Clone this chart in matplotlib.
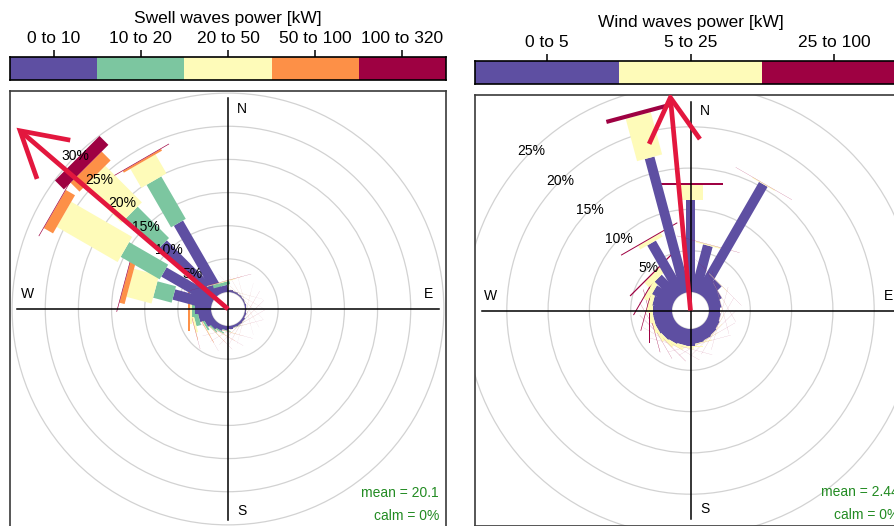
import numpy as np
import matplotlib
matplotlib.use("Agg")
import matplotlib.pyplot as plt
from matplotlib.patches import Polygon, Circle
from matplotlib.transforms import blended_transform_factory

plt.rcParams["font.family"] = ["Liberation Sans", "DejaVu Sans"]

# ------------------------------------------------------------------ data
# 15-degree direction sectors (degrees clockwise from north)
sectors = np.arange(0, 360, 15)

swell_classes = ["0 to 10", "10 to 20", "20 to 50", "50 to 100", "100 to 320"]
swell_colors = ["#5e4fa2", "#7cc6a0", "#fefbb9", "#fd9047", "#9e0142"]
# frequency of occurrence (%) per sector for each swell power class
swell_p0_10 = [0.3, 0.2, 0.15, 0.1, 0.1, 0.1, 0.1, 0.1, 0.2, 0.3, 0.3, 0.3,
               0.4, 0.6, 0.8, 1.0, 1.4, 2.0, 2.4, 5.9, 8.6, 11.3, 12.4, 1.0]
swell_p10_20 = [0.02, 0.01, 0.01, 0.01, 0.01, 0.01, 0.01, 0.01, 0.01, 0.02, 0.02, 0.05,
                0.05, 0.1, 0.2, 0.2, 0.3, 0.7, 0.4, 2.9, 6.8, 6.7, 7.4, 0.5]
swell_p20_50 = [0.02, 0.01, 0.01, 0.005, 0.005, 0.005, 0.005, 0.005, 0.01, 0.01, 0.01, 0.02,
                0.02, 0.05, 0.05, 0.05, 0.1, 0.3, 0.4, 3.9, 10.6, 7.8, 3.3, 0.1]
swell_p50_100 = [0.01, 0.005, 0.005, 0.005, 0.005, 0.005, 0.005, 0.005, 0.005, 0.005, 0.005, 0.005,
                 0.005, 0.01, 0.02, 0.02, 0.05, 0.05, 0.2, 0.8, 1.6, 1.9, 0.3, 0.02]
swell_p100_320 = [0.01, 0.005, 0.005, 0.005, 0.005, 0.005, 0.005, 0.005, 0.01, 0.01, 0.01, 0.01,
                  0.01, 0.01, 0.01, 0.01, 0.01, 0.02, 0.1, 0.1, 0.1, 1.9, 0.1, 0.02]
swell_mean = 20.1
swell_calm = 0
swell_arrow_dir = 310.6     # degrees
swell_arrow_len = 41.3      # % scale units
swell_rings = [0, 5, 10, 15, 20, 25, 30]

wind_classes = ["0 to 5", "5 to 25", "25 to 100"]
wind_colors = ["#5e4fa2", "#fefbb9", "#9e0142"]
wind_p0_5 = [11.1, 5.9, 15.4, 2.5, 1.8, 1.5, 1.3, 1.4, 1.5, 1.6, 1.7, 1.8,
             2.0, 2.0, 2.1, 2.2, 2.3, 2.3, 2.3, 2.4, 2.8, 3.3, 7.2, 16.9]
wind_p5_25 = [1.9, 0.15, 0.1, 0.05, 0.02, 0.02, 0.02, 0.02, 0.03, 0.05, 0.05, 0.1,
              0.15, 0.25, 0.3, 0.3, 0.3, 0.3, 0.4, 0.5, 0.6, 0.8, 0.5, 5.3]
wind_p25_100 = [0.25, 0.02, 0.02, 0.01, 0.01, 0.01, 0.01, 0.01, 0.01, 0.01, 0.01, 0.01,
                0.01, 0.01, 0.01, 0.02, 0.02, 0.04, 0.1, 0.08, 0.12, 0.15, 0.12, 0.5]
wind_mean = 2.44
wind_calm = 0
wind_arrow_dir = 354.6
wind_arrow_len = 25.9
wind_rings = [0, 5, 10, 15, 20, 25]

# ------------------------------------------------------------------ layout
W, H = 894, 526
fig = plt.figure(figsize=(W / 100, H / 100), dpi=100)
fig.patch.set_facecolor("white")


def px_axes(x, y, w, h):
    """Axes placed by its top-left corner in pixels."""
    return fig.add_axes([x / W, 1 - (y + h) / H, w / W, h / H])


ARROW_RED = "#e3173e"
GREEN_TXT = "#228b22"


def paddle(ax, deg, r1, r2, hw, color, z):
    th = np.deg2rad(deg)
    u = np.array([np.sin(th), np.cos(th)])
    v = np.array([np.cos(th), -np.sin(th)])
    pts = [r1 * u - hw * v, r1 * u + hw * v, r2 * u + hw * v, r2 * u - hw * v]
    ax.add_patch(Polygon(pts, closed=True, facecolor=color, edgecolor="none",
                         zorder=z))


def draw_rose(ax, classes, colors, series, rings, offset, span, half_widths,
              arrow_dir, arrow_len, mean, calm, lbl_pos, line_len):
    ax.set_xlim(-span, span)
    ax.set_ylim(-span, span)
    ax.set_aspect("equal")
    ax.set_xticks([])
    ax.set_yticks([])
    for s in ax.spines.values():
        s.set_color("#3a3a3a")
        s.set_linewidth(1.2)

    # grid rings
    for r in rings:
        ax.add_patch(Circle((0, 0), offset + r, fill=False, edgecolor="#d2d2d2",
                            linewidth=0.9, zorder=1))

    data = np.array(series)
    cum = np.cumsum(data, axis=0)
    for i, d in enumerate(sectors):
        for j in range(len(classes)):
            lo = 0 if j == 0 else cum[j - 1, i]
            hi = cum[j, i]
            paddle(ax, d, offset + lo, offset + hi, half_widths[j], colors[j], 2)

    # cross hairs
    ax.plot([-line_len, line_len], [0, 0], color="black", lw=1.1, zorder=3)
    ax.plot([0, 0], [-line_len, line_len], color="black", lw=1.1, zorder=3)

    # ring labels along 315 degrees
    for r in rings[1:]:
        rr = offset + r
        ax.text(-rr * np.sin(np.pi / 4), rr * np.cos(np.pi / 4), f"{r}%",
                ha="center", va="center", fontsize=10, zorder=4)

    for txt, (x, y) in zip("NWES", lbl_pos):
        ax.text(x, y, txt, ha="center", va="center", fontsize=10, zorder=4)

    # mean direction arrow
    th = np.deg2rad(arrow_dir)
    tip = np.array([arrow_len * np.sin(th), arrow_len * np.cos(th)])
    ax.plot([0, tip[0]], [0, tip[1]], color=ARROW_RED, lw=3.4,
            solid_capstyle="butt", zorder=5)
    head = 51 / (ax.bbox.width / (2 * span))
    back = th + np.pi
    e1 = tip + head * np.array([np.sin(back + np.deg2rad(30)), np.cos(back + np.deg2rad(30))])
    e2 = tip + head * np.array([np.sin(back - np.deg2rad(30)), np.cos(back - np.deg2rad(30))])
    ax.plot([e1[0], tip[0], e2[0]], [e1[1], tip[1], e2[1]], color=ARROW_RED,
            lw=3.4, solid_joinstyle="miter", solid_capstyle="butt", zorder=5)

    ax.text(0.984, 0.078, f"mean = {mean}", transform=ax.transAxes, ha="right",
            va="center", fontsize=10, color=GREEN_TXT, zorder=6)
    ax.text(0.984, 0.025, f"calm = {calm}%", transform=ax.transAxes, ha="right",
            va="center", fontsize=10, color=GREEN_TXT, zorder=6)


def draw_key(ax, classes, colors, title, cx_px, title_base, label_base):
    n = len(classes)
    ax.bar(np.arange(n), np.ones(n), width=1.0, align="edge", color=colors,
           edgecolor="none")
    ax.set_xlim(0, n)
    ax.set_ylim(0, 1)
    ax.set_yticks([])
    ax.set_xticks(np.arange(n) + 0.5)
    ax.tick_params(axis="x", top=True, bottom=False, labeltop=False,
                   labelbottom=False, direction="out", length=5, width=1.1)
    for s in ax.spines.values():
        s.set_linewidth(1.2)
        s.set_color("black")
    tr = blended_transform_factory(ax.transData, fig.transFigure)
    for k, lab in enumerate(classes):
        ax.text(k + 0.5, 1 - label_base / H, lab, transform=tr, ha="center",
                va="baseline", fontsize=12.5)
    fig.text(cx_px / W, 1 - title_base / H, title, ha="center", va="baseline",
             fontsize=12.5)


# swell panel
ax_k1 = px_axes(10, 57, 436, 23)
draw_key(ax_k1, swell_classes, swell_colors, "Swell waves power [kW]", 228, 22.5, 43)
ax1 = px_axes(10, 91, 436, 436)
draw_rose(ax1, swell_classes, swell_colors,
          [swell_p0_10, swell_p10_20, swell_p20_50, swell_p50_100, swell_p100_320],
          swell_rings, offset=2.56, span=32.88,
          half_widths=[0.8, 1.28, 2.19, 3.32, 4.75],
          arrow_dir=swell_arrow_dir, arrow_len=swell_arrow_len,
          mean=swell_mean, calm=swell_calm,
          lbl_pos=[(2.1, 30.2), (-30.3, 2.3), (30.2, 2.3), (2.1, -30.5)],
          line_len=31.8)

# wind-wave panel
ax_k2 = px_axes(475, 61, 431, 23)
draw_key(ax_k2, wind_classes, wind_colors, "Wind waves power [kW]", 690.5, 27.5, 47)
ax2 = px_axes(475, 95, 431, 431)
draw_rose(ax2, wind_classes, wind_colors,
          [wind_p0_5, wind_p5_25, wind_p25_100],
          wind_rings, offset=2.24, span=26.09,
          half_widths=[0.6, 1.57, 3.93],
          arrow_dir=wind_arrow_dir, arrow_len=wind_arrow_len,
          mean=wind_mean, calm=wind_calm,
          lbl_pos=[(1.7, 24.1), (-24.2, 1.7), (24.0, 1.7), (1.7, -24.0)],
          line_len=25.2)

fig.savefig("out.png", dpi=100)
